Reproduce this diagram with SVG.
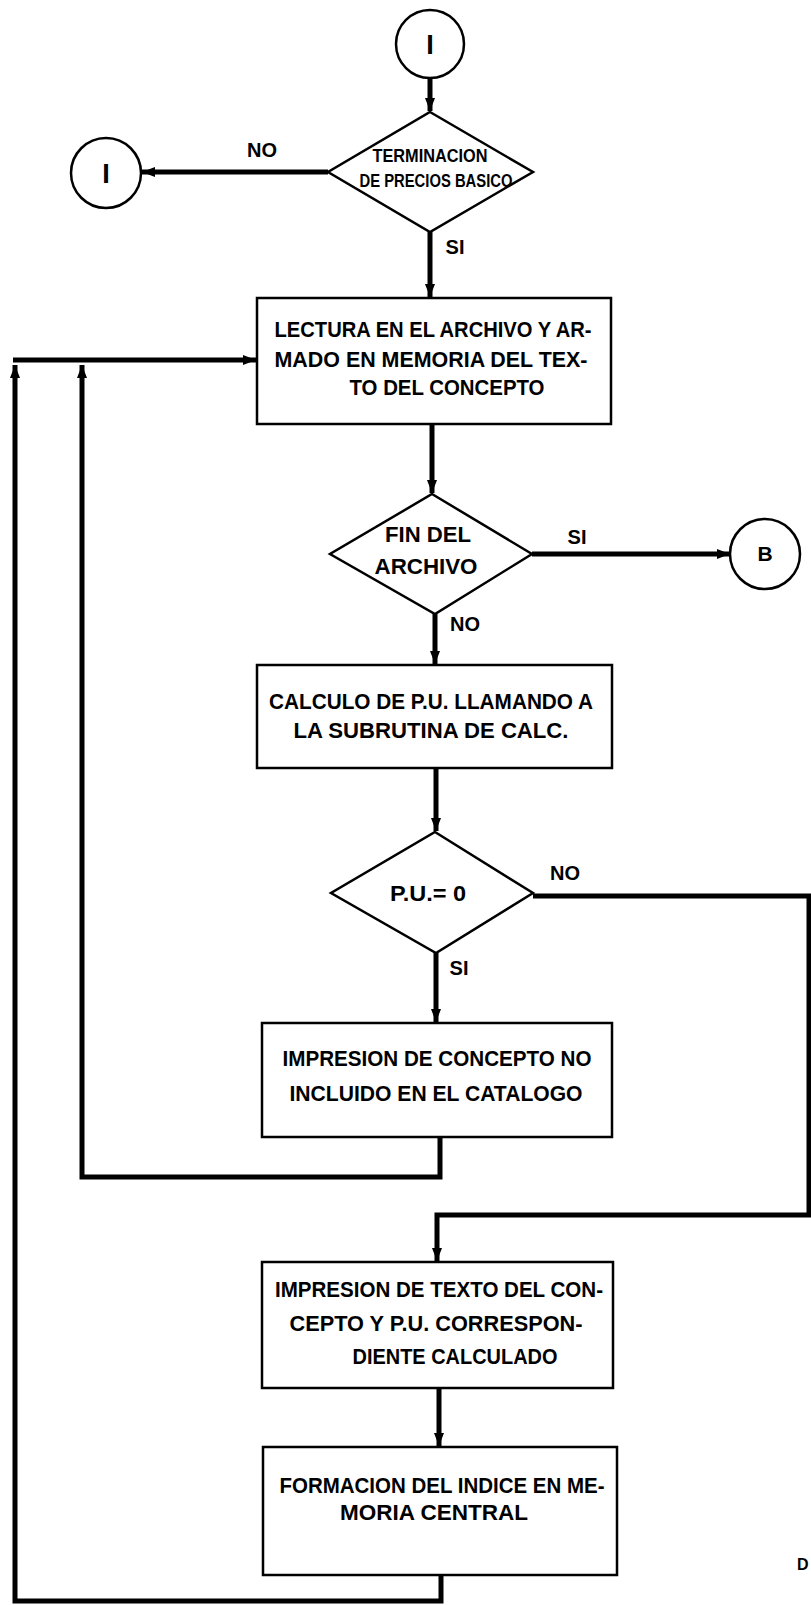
<svg xmlns="http://www.w3.org/2000/svg" width="811" height="1605" viewBox="0 0 811 1605">
<style>
.shape{fill:#fff;stroke:#000;stroke-width:2.5}
.conn{fill:none;stroke:#000;stroke-width:5;stroke-linejoin:miter}
.t{font-family:"Liberation Sans",Arial,sans-serif;font-size:22px;font-weight:bold;text-anchor:middle;fill:#000}
.s{font-size:19px}
.lbl{font-family:"Liberation Sans",Arial,sans-serif;font-size:20px;font-weight:bold;text-anchor:middle;fill:#000}
.c{font-family:"Liberation Sans",Arial,sans-serif;font-size:27px;font-weight:bold;text-anchor:middle;fill:#000}
</style>
<defs>
<marker id="ah" markerUnits="userSpaceOnUse" markerWidth="14" markerHeight="12" refX="13" refY="6" orient="auto">
<path d="M0,1 L13,6 L0,11 z" fill="#000"/>
</marker>
</defs>
<rect width="811" height="1605" fill="#fff"/>
<g id="connectors">
<path class="conn" d="M430,78 V111" marker-end="url(#ah)"/>
<path class="conn" d="M328,172 H142" marker-end="url(#ah)"/>
<path class="conn" d="M430,232 V297" marker-end="url(#ah)"/>
<path class="conn" d="M432,424 V493" marker-end="url(#ah)"/>
<path class="conn" d="M532,554 H730" marker-end="url(#ah)"/>
<path class="conn" d="M435,614 V664" marker-end="url(#ah)"/>
<path class="conn" d="M436,768 V831" marker-end="url(#ah)"/>
<path class="conn" d="M436,953 V1022" marker-end="url(#ah)"/>
<path class="conn" d="M533,896 H809 V1215 H437 V1261" marker-end="url(#ah)"/>
<path class="conn" d="M439,1388 V1446" marker-end="url(#ah)"/>
<path class="conn" d="M440,1137 V1177 H82 V365" marker-end="url(#ah)"/>
<path class="conn" d="M441,1575 V1601 H15 V365" marker-end="url(#ah)"/>
<path class="conn" d="M13,360 H256" marker-end="url(#ah)"/>
</g>
<g id="labels">
<text class="lbl" x="262" y="157">NO</text>
<text class="lbl" x="455" y="254">SI</text>
<text class="lbl" x="577" y="544">SI</text>
<text class="lbl" x="465" y="631">NO</text>
<text class="lbl" x="565" y="880">NO</text>
<text class="lbl" x="459" y="975">SI</text>
</g>
<g id="start">
<circle class="shape" cx="430" cy="44" r="34"/>
<text class="c" x="430" y="54">I</text>
</g>
<g id="dec1">
<polygon class="shape" points="430,112 533,172 430,232 328,172"/>
<text class="t s" x="430" y="162" textLength="115" lengthAdjust="spacingAndGlyphs">TERMINACION</text>
<text class="t s" x="436" y="187" textLength="153" lengthAdjust="spacingAndGlyphs">DE PRECIOS BASICO</text>
</g>
<g id="conn1">
<circle class="shape" cx="106" cy="173" r="35"/>
<text class="c" x="106" y="183">I</text>
</g>
<g id="box1">
<rect class="shape" x="257" y="298" width="354" height="126"/>
<text class="t" x="433" y="337" textLength="317" lengthAdjust="spacingAndGlyphs">LECTURA EN EL ARCHIVO Y AR-</text>
<text class="t" x="431" y="367" textLength="313" lengthAdjust="spacingAndGlyphs">MADO EN MEMORIA DEL TEX-</text>
<text class="t" x="447" y="395" textLength="195" lengthAdjust="spacingAndGlyphs">TO DEL CONCEPTO</text>
</g>
<g id="dec2">
<polygon class="shape" points="432,494 532,554 435,614 330,554"/>
<text class="t" x="428" y="542" textLength="86" lengthAdjust="spacingAndGlyphs">FIN DEL</text>
<text class="t" x="426" y="574" textLength="103" lengthAdjust="spacingAndGlyphs">ARCHIVO</text>
</g>
<g id="connB">
<circle class="shape" cx="765" cy="554" r="35"/>
<text class="lbl" x="765" y="561" style="font-size:21px">B</text>
</g>
<g id="box2">
<rect class="shape" x="257" y="665" width="355" height="103"/>
<text class="t" x="431" y="709" textLength="324" lengthAdjust="spacingAndGlyphs">CALCULO DE P.U. LLAMANDO A</text>
<text class="t" x="431" y="738" textLength="275" lengthAdjust="spacingAndGlyphs">LA SUBRUTINA DE CALC.</text>
</g>
<g id="dec3">
<polygon class="shape" points="435,832 533,893 436,953 331,893"/>
<text class="t" x="428" y="901" textLength="76" lengthAdjust="spacingAndGlyphs">P.U.= 0</text>
</g>
<g id="box3">
<rect class="shape" x="262" y="1023" width="350" height="114"/>
<text class="t" x="437" y="1066" textLength="309" lengthAdjust="spacingAndGlyphs">IMPRESION DE CONCEPTO NO</text>
<text class="t" x="436" y="1101" textLength="293" lengthAdjust="spacingAndGlyphs">INCLUIDO EN EL CATALOGO</text>
</g>
<g id="box4">
<rect class="shape" x="262" y="1262" width="351" height="126"/>
<text class="t" x="439" y="1297" textLength="328" lengthAdjust="spacingAndGlyphs">IMPRESION DE TEXTO DEL CON-</text>
<text class="t" x="436" y="1331" textLength="293" lengthAdjust="spacingAndGlyphs">CEPTO Y P.U. CORRESPON-</text>
<text class="t" x="455" y="1364" textLength="205" lengthAdjust="spacingAndGlyphs">DIENTE CALCULADO</text>
</g>
<g id="box5">
<rect class="shape" x="263" y="1447" width="354" height="128"/>
<text class="t" x="442" y="1493" textLength="325" lengthAdjust="spacingAndGlyphs">FORMACION DEL INDICE EN ME-</text>
<text class="t" x="434" y="1520" textLength="188" lengthAdjust="spacingAndGlyphs">MORIA CENTRAL</text>
</g>
<text class="lbl" x="797" y="1570" style="text-anchor:start;font-size:16px">D</text>
</svg>
